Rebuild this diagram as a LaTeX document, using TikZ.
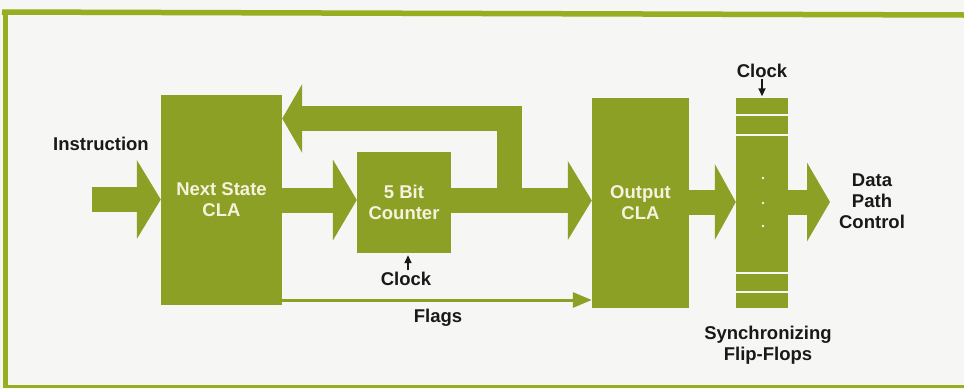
\documentclass[tikz,border=0pt]{standalone}
\usepackage{fontspec}
\setmainfont{Liberation Sans}
\usetikzlibrary{arrows.meta,calc}

\definecolor{olive}{RGB}{140,160,38}
\definecolor{framegreen}{RGB}{152,174,32}
\definecolor{cream}{RGB}{246,242,222}
\definecolor{paper}{RGB}{246,246,244}
\definecolor{ink}{RGB}{25,25,25}

\tikzset{
  blk/.style={fill=olive, draw=none, inner sep=0pt, align=center,
              text=cream, font=\fontsize{18.5}{21}\selectfont\bfseries},
  lbl/.style={text=ink, align=center, inner sep=0pt,
              font=\fontsize{18.5}{21}\selectfont\bfseries},
  fat/.style={draw=olive, line width=25pt, miter limit=10},
  bigtip/.style={-{Triangle[length=24pt,width=78pt]}},
  clk/.style={draw=ink, line width=1.6pt, -{Triangle[length=8pt,width=7pt]}},
}

\begin{document}
\begin{tikzpicture}[x=1pt,y=-1pt]
  \useasboundingbox (0,0) rectangle (964,389);
  \fill[paper] (0,0) rectangle (964,389);

  % open frame: top, left and bottom rules
  \draw[framegreen, line width=5.5pt] (2,12) -- (964,15);
  \draw[framegreen, line width=5pt] (5.5,9.5) -- (5.5,388);
  \draw[framegreen, line width=3pt] (3,386) -- (964,386);

  % blocks
  \node[blk, minimum width=121pt, minimum height=210pt] (ns)  at (221.5,200) {Next State\\CLA};
  \node[blk, minimum width=94pt,  minimum height=101pt] (cnt) at (404,202.5) {5 Bit\\Counter};
  \node[blk, minimum width=97pt,  minimum height=210pt] (out) at (640.5,203) {Output\\CLA};
  \node[blk, minimum width=52pt,  minimum height=210pt] (ff)  at (762,203) {};

  % flip-flop stack: separating gaps and ellipsis dots
  \foreach \yy in {115,135,273,292}
    \draw[paper, line width=2.5pt] (ff.west |- 0,\yy) -- (ff.east |- 0,\yy);
  \foreach \yy in {178,203,226}
    \fill[cream] (763,\yy) circle (1.3pt);

  % free ends
  \coordinate (instart) at (92,199.5);
  \coordinate (dpc) at (830,202);
  \coordinate (fbturn) at (509.5,118.5);

  % wide data arrows
  \draw[fat, bigtip] (instart) -- (instart -| ns.west);
  \draw[fat, -{Triangle[length=24pt,width=80pt]}] (ns.east |- 0,200) -- (cnt.west |- 0,200);
  \draw[fat, -{Triangle[length=24pt,width=78pt]}] (cnt.east |- 0,200.5) -- (out.west |- 0,200.5);
  \draw[fat, -{Triangle[length=21pt,width=75pt]}] (out.east |- 0,202) -- (ff.west |- 0,202);
  \draw[fat, -{Triangle[length=23pt,width=78pt]}] (ff.east |- 0,202) -- (dpc);
  % feedback path to the next-state logic
  \draw[fat, -{Triangle[length=20pt,width=68pt]}]
    (fbturn |- 0,200) -- (fbturn) -- (fbturn -| ns.east);

  % flags
  \draw[draw=olive, line width=3pt, -{Triangle[length=19pt,width=15pt]}]
    (ns.east |- 0,300) -- (out.west |- 0,300);

  % clocks
  \node[lbl, anchor=base] (clk1) at (406,285) {Clock};
  \draw[clk] (408,270) -- ($(cnt.south -| 408,0)+(0,2)$);
  \node[lbl, anchor=base] (clk2) at (762,77) {Clock};
  \draw[clk] (762,79) -- ($(ff.north)+(0,-1.5)$);

  % labels
  \node[lbl, anchor=base] (instr) at (101,150) {Instruction};
  \node[lbl, anchor=base] (flags) at (438,322) {Flags};
  \node[lbl] (dpclbl) at (872,201.5) {Data\\Path\\Control};
  \node[lbl] (sync) at (768,345) {Synchronizing\\Flip-Flops};
\end{tikzpicture}
\end{document}
